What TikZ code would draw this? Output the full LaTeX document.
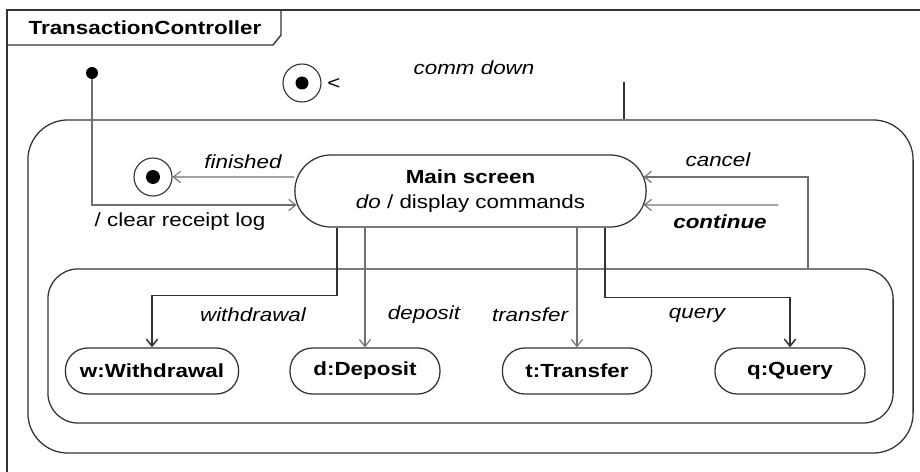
\documentclass[tikz,border=0pt]{standalone}
\usepackage{fontspec}
\setmainfont{Liberation Sans}[FakeStretch=1.18]
\usetikzlibrary{arrows.meta}
\begin{document}
\begin{tikzpicture}[x=0.025cm, y=-0.025cm,
    font=\fontsize{13.5}{18}\selectfont,
    state/.style={draw=lineColour, line width=0.9pt, minimum height=1.15cm,
        rounded corners=0.56cm, font=\fontsize{13.5}{18}\selectfont\bfseries},
    composite/.style={draw=lineColour, line width=0.9pt},
    trans/.style={draw=transColour, line width=0.8pt, -{Straight Barb[length=5pt,width=8pt]}},
    strong/.style={draw=lineColour, line width=1.1pt, -{Straight Barb[length=5pt,width=8pt]}},
    lbl/.style={font=\fontsize{13.5}{18}\selectfont\itshape}]
    % Define colours
    \definecolor{lineColour}{HTML}{333333}
    \definecolor{transColour}{HTML}{707070}

    % Fix the picture size
    \useasboundingbox (0,0) rectangle (920,472);

    % Draw frame and name tab
    \draw[lineColour, line width=1pt] (7,472) -- (7,10) -- (920,10);
    \draw[lineColour, line width=1pt] (7,45) -- (273,45) -- (281,35) -- (281,10);
    \node[font=\fontsize{13.5}{18}\selectfont\bfseries] (title) at (145,28) {TransactionController};

    % Draw composite states
    \node[composite, rounded corners=1cm, minimum width=22.125cm, minimum height=8.325cm] (session) at (470.5,286.5) {};
    \node[composite, rounded corners=0.75cm, minimum width=21.125cm, minimum height=3.85cm] (ops) at (470.5,346) {};

    % Draw pseudo states
    \node[circle, fill=black, inner sep=0pt, minimum size=0.3cm] (init) at (92,73) {};
    \node[circle, draw=lineColour, line width=0.8pt, minimum size=0.95cm] (stop) at (302,83) {};
    \fill (stop) circle (6.5);
    \node (stopmark) at (334,84) {<};
    \node[circle, draw=lineColour, line width=0.8pt, minimum size=0.95cm] (done) at (153,177) {};
    \fill (done) circle (7);

    % Draw states
    \node[state, minimum width=8.78cm, minimum height=1.8cm, rounded corners=0.9cm, align=center,
        font=\fontsize{13.5}{18}\selectfont] (main) at (470.5,191)
        {\textbf{Main screen}\\\textit{do} / display commands};
    \node[state, minimum width=4.33cm] (wd) at (152,371) {w:Withdrawal};
    \node[state, minimum width=3.75cm] (dp) at (365,371) {d:Deposit};
    \node[state, minimum width=3.73cm] (tf) at (577,371) {t:Transfer};
    \node[state, minimum width=3.75cm] (qr) at (790,371) {q:Query};

    % Define helper coordinates
    \coordinate (wx) at (337,0);
    \coordinate (qx) at (605,0);
    \coordinate (cx) at (808,0);
    \coordinate (cdx) at (624,0);
    \coordinate (resume) at (778,205);

    % Draw transitions
    \draw[lineColour, line width=0.9pt] (session.north -| cdx) -- ++(0,-37);
    \draw[trans] (init) |- ([xshift=0.06cm, yshift=-0.35cm]main.west);
    \draw[trans] ([yshift=0.35cm]main.west) -- (done);
    \draw[trans] (ops.north -| cx) |- ([xshift=-0.08cm, yshift=0.35cm]main.east);
    \draw[trans] (resume) -- ([xshift=-0.08cm, yshift=-0.35cm]main.east);
    \draw[strong] (main.south -| wx) -- ++(0,68) -| (wd.north);
    \draw[trans] (main.south -| dp.north) -- (dp.north);
    \draw[trans] (main.south -| tf.north) -- (tf.north);
    \draw[strong] (main.south -| qx) -- ++(0,70) -| (qr.north);

    % Label transitions
    \node[lbl] (commdown) at (474,68) {comm down};
    \node[lbl] (finished) at (243,162) {finished};
    \node (clearlog) at (180,222) {/ clear receipt log};
    \node[lbl] (cancel) at (718,160) {cancel};
    \node[lbl, font=\fontsize{13.5}{18}\selectfont\bfseries\itshape] (continue) at (720,222) {continue};
    \node[lbl] (withdrawal) at (253,315) {withdrawal};
    \node[lbl] (deposit) at (424,315) {deposit};
    \node[lbl] (transfer) at (530,315) {transfer};
    \node[lbl] (query) at (697,315) {query};
\end{tikzpicture}
\end{document}
